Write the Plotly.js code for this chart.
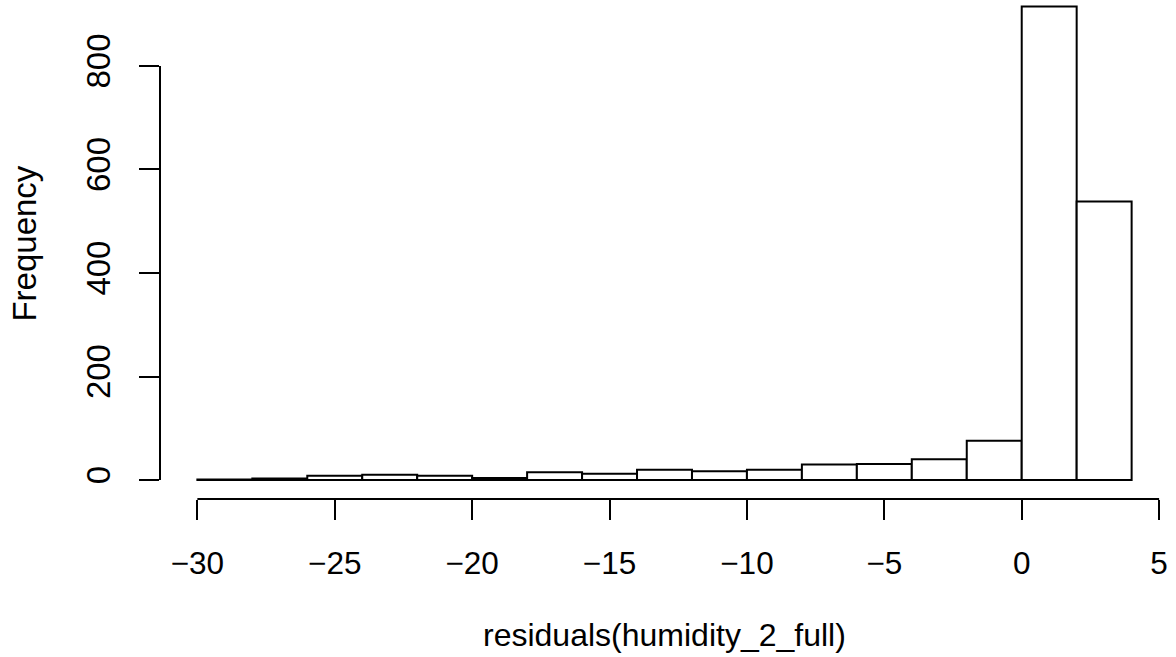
<!DOCTYPE html>
<html>
<head>
<meta charset="utf-8">
<script src="https://cdn.plot.ly/plotly-3.0.1.min.js"></script>
<style>html,body{margin:0;padding:0;background:#fff;}#chart{width:1176px;height:657px;}</style>
</head>
<body>
<div id="chart"></div>
<script>
// Histogram of residuals(humidity_2_full)
const binStarts = [-30, -28, -26, -24, -22, -20, -18, -16, -14, -12, -10, -8, -6, -4, -2, 0, 2];
const binWidth = 2;
const counts = [1, 3, 8, 10, 8, 4, 15, 12, 20, 17, 20, 30, 31, 40, 76, 915, 538];
const xTickVals = [-30, -25, -20, -15, -10, -5, 0, 5];
const xTickText = ["\u221230", "\u221225", "\u221220", "\u221215", "\u221210", "\u22125", "0", "5"];
const yTickVals = [0, 200, 400, 600, 800];
const yTickText = ["0", "200", "400", "600", "800"];
const xTitle = "residuals(humidity_2_full)";
const yTitle = "Frequency";

const centers = binStarts.map(b => b + binWidth / 2);
const FONT = "Liberation Sans, Arial, Helvetica, sans-serif";

const trace = {
  type: "bar",
  x: centers,
  y: counts,
  width: binWidth,
  marker: {color: "#ffffff", line: {color: "#000000", width: 2}},
  hoverinfo: "x+y"
};

const layout = {
  width: 1176, height: 657,
  margin: {l: 159.5, r: 7, t: 0, b: 158},
  paper_bgcolor: "#ffffff", plot_bgcolor: "#ffffff",
  showlegend: false,
  bargap: 0,
  font: {family: FONT, size: 32, color: "#000000"},
  xaxis: {
    range: [-31.36, 5.36],
    tickvals: xTickVals, ticktext: xTickText,
    ticks: "outside", ticklen: 20, tickwidth: 2, tickcolor: "#000",
    ticklabelstandoff: 16,
    showgrid: false, zeroline: false, showline: false,
    tickfont: {family: FONT, size: 31.5, color: "#000"}
  },
  yaxis: {
    range: [-36.7, 927.5],
    tickvals: yTickVals, ticktext: yTickText,
    ticks: "outside", ticklen: 20, tickwidth: 2, tickcolor: "#000",
    tickangle: -90,
    ticklabelstandoff: 16,
    showgrid: false, zeroline: false, showline: false,
    tickfont: {family: FONT, size: 33, color: "#000"}
  },
  shapes: [
    {type: "line", xref: "x", yref: "paper", x0: xTickVals[0], x1: xTickVals[xTickVals.length - 1], y0: 0, y1: 0,
     line: {color: "#000", width: 2}},
    {type: "line", xref: "paper", yref: "y", x0: 0, x1: 0, y0: yTickVals[0], y1: yTickVals[yTickVals.length - 1],
     line: {color: "#000", width: 2}}
  ],
  annotations: [
    {text: xTitle, xref: "paper", yref: "paper", x: 0.5, y: -136 / 499, xanchor: "center", yanchor: "middle",
     showarrow: false, font: {family: FONT, size: 32, color: "#000"}},
    {text: yTitle, xref: "paper", yref: "paper", x: -136.5 / 1009.5, y: (499 - 244) / 499, xanchor: "center", yanchor: "middle",
     textangle: -90, showarrow: false, font: {family: FONT, size: 33, color: "#000"}}
  ]
};

Plotly.newPlot("chart", [trace], layout, {displayModeBar: false, staticPlot: true});
</script>
</body>
</html>
